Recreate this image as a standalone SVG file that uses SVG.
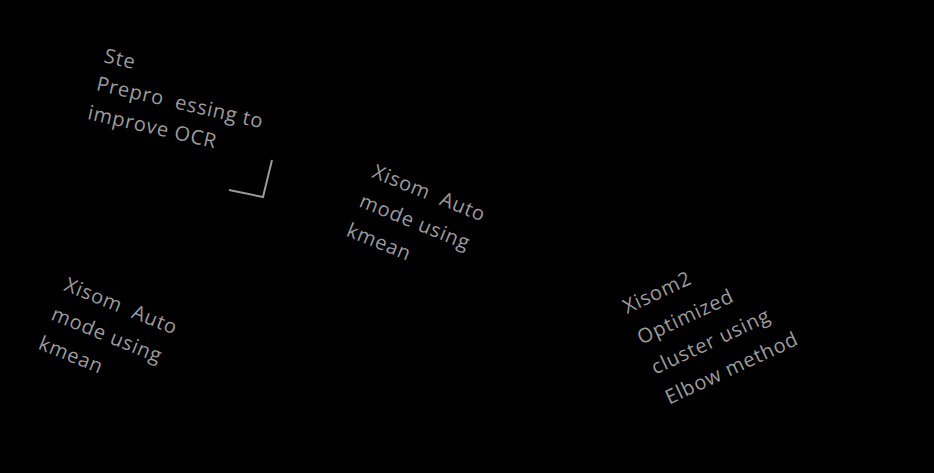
<svg xmlns="http://www.w3.org/2000/svg" width="934" height="473" viewBox="0 0 934 473">
<style>
text{font-family:"Open Sans","Liberation Sans",sans-serif;font-size:20px;fill:#9c9c9c;letter-spacing:0.8px;white-space:pre}
.ln{stroke:#999;stroke-width:2;fill:none}
</style>
<rect width="934" height="473" fill="#000"/>
<g id="step1" transform="translate(103,62) rotate(13)">
<text x="0" y="0">Ste</text>
<text x="-1" y="29" xml:space="preserve">Prepro  essing to</text>
<text x="-3" y="59">improve OCR</text>
</g>
<g id="connectors">
<path class="ln" d="M272,160 L263,197 L229,190"/>
</g>
<g id="xisom1" transform="translate(371,177) rotate(22)">
<text x="0" y="0" xml:space="preserve">Xisom  Auto</text>
<text x="-1" y="32">mode using</text>
<text x="-2" y="64">kmean</text>
</g>
<g id="xisom1b" transform="translate(63,290) rotate(22)">
<text x="0" y="0" xml:space="preserve">Xisom  Auto</text>
<text x="-1" y="32">mode using</text>
<text x="-2" y="64">kmean</text>
</g>
<g id="xisom2" transform="translate(627,314) rotate(-25)">
<text x="0" y="0">Xisom2</text>
<text x="0" y="34">Optimized</text>
<text x="0" y="67">cluster using</text>
<text x="0" y="100">Elbow method</text>
</g>
</svg>
